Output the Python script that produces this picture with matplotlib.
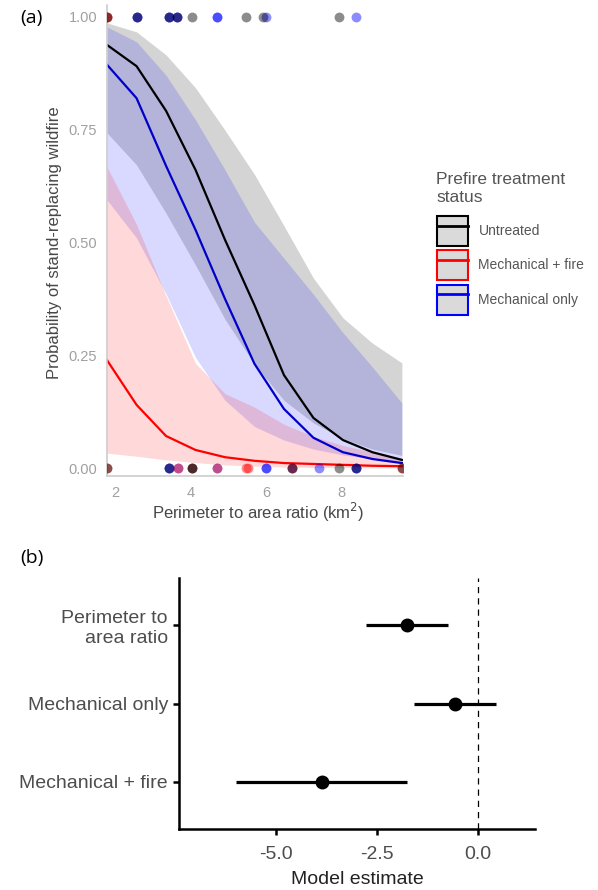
import matplotlib
matplotlib.use("Agg")
import matplotlib.pyplot as plt
from matplotlib.patches import Patch
from matplotlib.lines import Line2D

plt.rcParams['font.family'] = ['Liberation Sans', 'DejaVu Sans']

# ---- panel (a) data: fitted probabilities and 95% bands ----
ratio = [1.79, 2.57, 3.35, 4.13, 4.91, 5.69, 6.47, 7.25, 8.03, 8.81, 9.59]

untreated_fit = [0.938, 0.891, 0.792, 0.661, 0.506, 0.361, 0.206, 0.111, 0.062, 0.035, 0.018]
untreated_lo = [0.743, 0.672, 0.565, 0.450, 0.330, 0.230, 0.150, 0.100, 0.065, 0.042, 0.028]
untreated_hi = [0.987, 0.967, 0.916, 0.843, 0.749, 0.651, 0.537, 0.421, 0.333, 0.277, 0.233]

mech_fit = [0.894, 0.820, 0.670, 0.528, 0.375, 0.231, 0.131, 0.067, 0.035, 0.020, 0.011]
mech_lo = [0.594, 0.510, 0.386, 0.245, 0.150, 0.092, 0.062, 0.042, 0.029, 0.020, 0.011]
mech_hi = [0.978, 0.945, 0.871, 0.772, 0.661, 0.545, 0.465, 0.385, 0.300, 0.224, 0.144]

fire_fit = [0.239, 0.140, 0.071, 0.040, 0.024, 0.016, 0.011, 0.009, 0.007, 0.005, 0.004]
fire_lo = [0.033, 0.026, 0.018, 0.012, 0.007, 0.004, 0.002, 0.001, 0.001, 0.0005, 0.0003]
fire_hi = [0.667, 0.540, 0.382, 0.232, 0.165, 0.135, 0.097, 0.070, 0.050, 0.035, 0.022]

# observed fires (y = 1 stand-replacing, y = 0 not)
untreated_x1 = [1.79, 2.58, 3.43, 3.64, 4.04, 5.47, 5.92, 7.93]
untreated_x0 = [1.79, 3.43, 4.04, 4.04, 6.68, 7.93, 8.38, 9.60]
fire_x1 = [1.79, 1.79]
fire_x0 = [1.79, 3.67, 4.04, 4.70, 5.46, 5.52, 6.68, 9.60]
mech_x1 = [2.58, 2.58, 3.43, 3.43, 3.64, 3.64, 4.70, 4.70, 5.99, 8.38]
mech_x0 = [3.43, 3.43, 3.67, 4.70, 5.99, 5.99, 6.68, 7.40, 8.38, 8.38]

legend_labels = ["Untreated", "Mechanical + fire", "Mechanical only"]
legend_colors = ["black", "red", "blue"]

# ---- panel (b) data: model estimates ----
terms = ["Mechanical + fire", "Mechanical only", "Perimeter to\narea ratio"]
estimate = [-3.87, -0.58, -1.75]
ci_low = [-5.99, -1.60, -2.78]
ci_high = [-1.75, 0.44, -0.74]

W, H = 598, 890
fig = plt.figure(figsize=(W / 100, H / 100), dpi=100)

# ================= (a) =================
ax = fig.add_axes([107 / W, 1 - 476 / H, 296 / W, 471 / H])

ax.fill_between(ratio, untreated_lo, untreated_hi, color="black", alpha=0.17, lw=0)
ax.fill_between(ratio, mech_lo, mech_hi, color="blue", alpha=0.15, lw=0)
ax.fill_between(ratio, fire_lo, fire_hi, color="red", alpha=0.15, lw=0)

ax.plot(ratio, untreated_fit, color="black", lw=1.6)
ax.plot(ratio, mech_fit, color="#0000c8", lw=1.6)
ax.plot(ratio, fire_fit, color="red", lw=1.6)

for xs, c in [(mech_x1, "blue"), (fire_x1, "red"), (untreated_x1, "black")]:
    ax.scatter(xs, [1] * len(xs), s=50, color=c, alpha=0.45, lw=0, zorder=4)
for xs, c in [(mech_x0, "blue"), (fire_x0, "red"), (untreated_x0, "black")]:
    ax.scatter(xs, [0] * len(xs), s=50, color=c, alpha=0.45, lw=0, zorder=4)

ax.set_xlim(1.788, 9.619)
ax.set_ylim(-0.0177, 1.0266)
ax.set_xticks([2, 4, 6, 8])
ax.set_yticks([0, 0.25, 0.5, 0.75, 1.0])
ax.set_yticklabels(["0.00", "0.25", "0.50", "0.75", "1.00"])
ax.tick_params(length=0, labelsize=10.5, labelcolor="#a0a0a0", pad=7)
for side in ["top", "right"]:
    ax.spines[side].set_visible(False)
for side in ["left", "bottom"]:
    ax.spines[side].set_color("#c8c8c8")
    ax.spines[side].set_linewidth(1.1)

fig.text(55 / W, 1 - 243 / H, "Probability of stand-replacing wildfire",
         rotation=90, ha="center", va="center", fontsize=12, color="#474747")
fig.text(258 / W, 1 - 512 / H, "Perimeter to area ratio (km$^2$)",
         ha="center", va="center", fontsize=12, color="#474747")

# legend
fig.text(436 / W, 1 - 189 / H, "Prefire treatment\nstatus", ha="left", va="center",
         fontsize=12.5, color="#555555", linespacing=1.25)
handles = []
for c in legend_colors:
    handles.append((Patch(facecolor="#dadada", edgecolor=c, lw=1.5),
                    Line2D([], [], color=c, lw=2)))
leg = ax.legend(handles, legend_labels, loc="upper left",
                bbox_to_anchor=(437 / W, 1 - 216 / H), bbox_transform=fig.transFigure,
                frameon=False, fontsize=10, handlelength=2.23, handleheight=2.94,
                labelspacing=0.32, handletextpad=0.75, borderpad=0, borderaxespad=0,
                labelcolor="#555555")

fig.text(20 / W, 1 - 18 / H, "(a)", ha="left", va="center", fontsize=14,
         family=["Open Sans", "DejaVu Sans"])

# ================= (b) =================
bx = fig.add_axes([179 / W, 1 - 829 / H, 356 / W, 251 / H])
ypos = [1, 2, 3]
bx.hlines(ypos, ci_low, ci_high, color="black", lw=2.3)
bx.plot(estimate, ypos, "o", color="black", ms=9)
bx.axvline(0, color="black", lw=0.9, ls=(0, (5, 4)))

bx.set_xlim(-7.41, 1.41)
bx.set_ylim(0.4, 3.6)
bx.set_xticks([-5.0, -2.5, 0.0])
bx.set_xticklabels(["-5.0", "-2.5", "0.0"])
bx.set_yticks(ypos)
bx.set_yticklabels(terms)
bx.tick_params(length=4, width=1.8, labelsize=14, labelcolor="#4d4d4d", pad=4)
bx.tick_params(axis="x", pad=8)
for side in ["top", "right"]:
    bx.spines[side].set_visible(False)
for side in ["left", "bottom"]:
    bx.spines[side].set_linewidth(1.8)
bx.set_xlabel("Model estimate", fontsize=14, color="#222222", labelpad=6)

fig.text(20 / W, 1 - 558 / H, "(b)", ha="left", va="center", fontsize=14,
         family=["Open Sans", "DejaVu Sans"])

fig.savefig("out.png", dpi=100)
plt.close()
